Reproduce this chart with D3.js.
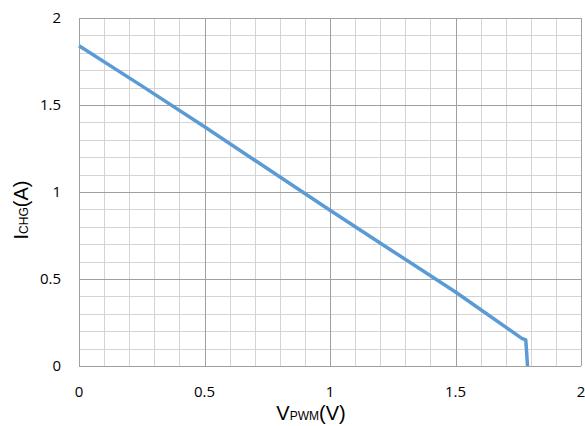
<!DOCTYPE html>
<html>
<head>
<meta charset="utf-8">
<script src="https://cdn.jsdelivr.net/npm/d3@7"></script>
<style>
  body { margin: 0; background: #fff; }
  svg { display: block; }
  .tick-label { font-family: "Open Sans", sans-serif; font-size: 15px; fill: #000; }
  .axis-title { font-family: "Liberation Sans", Arial, sans-serif; font-size: 20px; fill: #000; }
</style>
</head>
<body>
<div id="chart-area"></div>
<script>
// readings
const vpwm = [0, 0.25, 0.5, 0.75, 1.0, 1.25, 1.5, 1.764, 1.78, 1.787];
const ichg = [1.84, 1.61, 1.375, 1.135, 0.895, 0.66, 0.425, 0.159, 0.15, 0];

const xTicks = [0, 0.5, 1, 1.5, 2];
const yTicks = [0, 0.5, 1, 1.5, 2];

const W = 585, H = 426;
const plot = { left: 79, right: 581, top: 18, bottom: 366 };

const svg = d3.select('#chart-area').append('svg')
  .attr('width', W)
  .attr('height', H);

const x = d3.scaleLinear().domain([0, 2]).range([plot.left, plot.right]);
const y = d3.scaleLinear().domain([0, 2]).range([plot.bottom, plot.top]);

const snap = v => Math.round(v) + 0.5;

// minor grid (every 0.1)
const grid = svg.append('g');
grid.selectAll('.vminor')
  .data(x.ticks(20))
  .enter().append('line')
    .attr('x1', d => snap(x(d))).attr('x2', d => snap(x(d)))
    .attr('y1', plot.top).attr('y2', plot.bottom)
    .attr('stroke', '#d4d4d4');
grid.selectAll('.hminor')
  .data(y.ticks(20))
  .enter().append('line')
    .attr('y1', d => snap(y(d))).attr('y2', d => snap(y(d)))
    .attr('x1', plot.left).attr('x2', plot.right)
    .attr('stroke', '#d4d4d4');

// major grid
grid.selectAll('.vmajor')
  .data(xTicks)
  .enter().append('line')
    .attr('x1', d => snap(x(d))).attr('x2', d => snap(x(d)))
    .attr('y1', plot.top).attr('y2', plot.bottom)
    .attr('stroke', '#a0a0a0');
grid.selectAll('.hmajor')
  .data(yTicks)
  .enter().append('line')
    .attr('y1', d => snap(y(d))).attr('y2', d => snap(y(d)))
    .attr('x1', plot.left).attr('x2', plot.right)
    .attr('stroke', '#a0a0a0');

// tick labels
svg.selectAll('.xlab')
  .data(xTicks)
  .enter().append('text')
    .attr('class', 'tick-label')
    .attr('x', d => x(d))
    .attr('y', 397)
    .attr('text-anchor', 'middle')
    .text(d => d);

svg.selectAll('.ylab')
  .data(yTicks)
  .enter().append('text')
    .attr('class', 'tick-label')
    .attr('x', 61)
    .attr('y', d => y(d) + 5)
    .attr('text-anchor', 'end')
    .text(d => d);

// the curve
const line = d3.line()
  .x((d, i) => x(vpwm[i]))
  .y(d => y(d));

svg.append('path')
  .datum(ichg)
  .attr('d', line)
  .attr('fill', 'none')
  .attr('stroke', '#5b9bd5')
  .attr('stroke-width', 3.5)
  .attr('stroke-linejoin', 'round');

// axis titles
const xt = svg.append('text')
  .attr('class', 'axis-title')
  .attr('x', 311)
  .attr('y', 420)
  .attr('text-anchor', 'middle');
xt.append('tspan').text('V');
xt.append('tspan').attr('font-size', '12px').text('PWM');
xt.append('tspan').text('(V)');

const yt = svg.append('text')
  .attr('class', 'axis-title')
  .attr('transform', 'translate(28,210) rotate(-90)')
  .attr('text-anchor', 'middle');
yt.append('tspan').text('I');
yt.append('tspan').attr('font-size', '12px').text('CHG');
yt.append('tspan').text('(A)');
</script>
</body>
</html>
